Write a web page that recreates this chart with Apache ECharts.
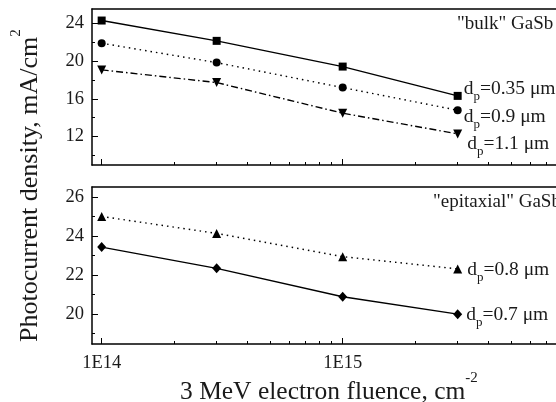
<!DOCTYPE html>
<html><head><meta charset="utf-8">
<script src="https://cdn.jsdelivr.net/npm/echarts@6/dist/echarts.min.js"></script>
<style>html,body{margin:0;padding:0;background:#fff}#c{width:556px;height:402px}</style>
</head><body><div id="c"></div>
<script>
const fluence = [1e14, 3e14, 1e15, 3e15];
const bulk035 = [24.28, 22.13, 19.41, 16.31];
const bulk09  = [21.88, 19.83, 17.19, 14.79];
const bulk11  = [19.06, 17.72, 14.48, 12.29];
const epi08   = [24.99, 24.12, 22.93, 22.30];
const epi07   = [23.42, 22.33, 20.87, 19.98];
const xMajor = [1e14, 1e15];
const xMinor = [2e14,3e14,4e14,5e14,6e14,7e14,8e14,9e14,2e15,3e15,4e15,5e15,6e15,7e15];
const topYMajor = [12, 16, 20, 24];
const topYMinor = [10, 14, 18, 22];
const botYMajor = [20, 22, 24, 26];
const botYMinor = [19, 21, 23, 25];
const labels = {
  b035: 'd_p=0.35 μm', b09: 'd_p=0.9 μm', b11: 'd_p=1.1 μm',
  e08: 'd_p=0.8 μm', e07: 'd_p=0.7 μm'
};
const panelTitles = ['"bulk" GaSb', '"epitaxial" GaSb'];
const yTitle = ['Photocurrent density, mA/cm', '2'];
const xTitle = ['3 MeV electron fluence, cm', '-2'];

const FONT = 'Liberation Serif';
const INK = '#1a1a1a';
const chart = echarts.init(document.getElementById('c'), null, {renderer: 'canvas'});
const X_MIN = 9.118e13, X_MAX = 7.676e15;

function xAx(grid, kind) {
  const base = {type: 'log', logBase: 10, gridIndex: grid, min: X_MIN, max: X_MAX,
    splitLine: {show: false}, axisLabel: {show: false}, axisTick: {show: false},
    axisLine: {show: false, onZero: false, lineStyle: {color: '#000', width: 1.5}}};
  if (kind === 'minor') {
    base.position = 'bottom'; base.axisLine.show = true;
    base.axisTick = {show: true, inside: true, length: 3, customValues: xMinor, lineStyle: {color: '#000', width: 1}};
  } else if (kind === 'major') {
    base.position = 'bottom';
    base.axisTick = {show: true, inside: true, length: 6, customValues: xMajor, lineStyle: {color: '#000', width: 1}};
    if (grid === 1) base.axisLabel = {show: true, customValues: xMajor, margin: 10,
      fontFamily: FONT, fontSize: 18.5, color: INK,
      formatter: v => '1E' + Math.round(Math.log10(v))};
  } else {
    base.position = 'top'; base.axisLine.show = true;
  }
  return base;
}
function yAx(grid, min, max, vals, major) {
  return {type: 'value', gridIndex: grid, min: min, max: max, position: 'left',
    splitLine: {show: false},
    axisLine: {show: major, onZero: false, lineStyle: {color: '#000', width: 1.5}},
    axisTick: {show: true, inside: true, length: major ? 6 : 3, customValues: vals, lineStyle: {color: '#000', width: 1}},
    axisLabel: major ? {show: true, customValues: vals, margin: 8, fontFamily: FONT, fontSize: 18.5, color: INK} : {show: false}};
}

function lab(text, dx, dy) {
  const parts = text.split('_p');
  return {show: true, position: 'right', distance: 2, offset: [dx, dy],
    formatter: '{m|' + parts[0] + '}{s|p}{m|' + parts[1] + '}',
    rich: {
      m: {fontFamily: FONT, fontSize: 19.5, color: INK, lineHeight: 28, verticalAlign: 'middle'},
      s: {fontFamily: FONT, fontSize: 13, color: INK, lineHeight: 28, verticalAlign: 'bottom'}
    }};
}
function ser(vals, xi, yi, symbol, size, rot, ltype, text, dx, dy) {
  const data = fluence.map((f, i) => {
    const d = {value: [f, vals[i]]};
    if (i === fluence.length - 1) d.label = lab(text, dx, dy);
    return d;
  });
  return {type: 'line', xAxisIndex: xi, yAxisIndex: yi, data: data,
    symbol: symbol, symbolSize: size, symbolRotate: rot, showAllSymbol: true,
    itemStyle: {color: '#000'}, lineStyle: {color: '#000', width: 1.4, type: ltype},
    label: {show: false}, animation: false, z: 5};
}

chart.setOption({
  animation: false,
  backgroundColor: '#fff',
  grid: [
    {left: 92, top: 9, right: 0, height: 156, containLabel: false},
    {left: 92, top: 187, right: 0, height: 157, containLabel: false}
  ],
  xAxis: [xAx(0, 'minor'), xAx(0, 'major'), xAx(0, 'top'), xAx(1, 'minor'), xAx(1, 'major'), xAx(1, 'top')],
  yAxis: [yAx(0, 9, 25.5, topYMajor, true), yAx(0, 9, 25.5, topYMinor, false),
          yAx(1, 18.45, 26.5, botYMajor, true), yAx(1, 18.45, 26.5, botYMinor, false)],
  series: [
    ser(bulk035, 0, 0, 'rect', 8, 0, 'solid', labels.b035, 0, -7),
    ser(bulk09, 0, 0, 'circle', 8, 0, [1.5, 4], labels.b09, 0, 7),
    ser(bulk11, 0, 0, 'triangle', 9, 180, [7, 3, 1.5, 3], labels.b11, 3, 10),
    ser(epi08, 3, 2, 'triangle', 9, 0, [1.5, 4], labels.e08, 3, 1),
    ser(epi07, 3, 2, 'diamond', [9, 10], 0, 'solid', labels.e07, 2, 1)
  ],
  graphic: [
    {type: 'text', left: 457, top: 15, style: {text: panelTitles[0], font: '19px "' + FONT + '"', fill: INK}},
    {type: 'text', left: 433, top: 193, style: {text: panelTitles[1], font: '19px "' + FONT + '"', fill: INK}},
    {type: 'text', x: 26, y: 342, rotation: Math.PI / 2,
      style: {text: '{t|' + yTitle[0] + '}{sp|' + yTitle[1] + '}', align: 'left', verticalAlign: 'middle',
        rich: {t: {font: '26px "' + FONT + '"', fill: INK, lineHeight: 34, verticalAlign: 'bottom'},
               sp: {font: '15px "' + FONT + '"', fill: INK, lineHeight: 34, verticalAlign: 'top'}}}},
    {type: 'text', x: 180, y: 388,
      style: {text: '{t|' + xTitle[0] + '}{sp|' + xTitle[1] + '}', align: 'left', verticalAlign: 'middle',
        rich: {t: {font: '25.5px "' + FONT + '"', fill: INK, lineHeight: 34, verticalAlign: 'bottom'},
               sp: {font: '15px "' + FONT + '"', fill: INK, lineHeight: 34, verticalAlign: 'top'}}}}
  ]
});
</script></body></html>
